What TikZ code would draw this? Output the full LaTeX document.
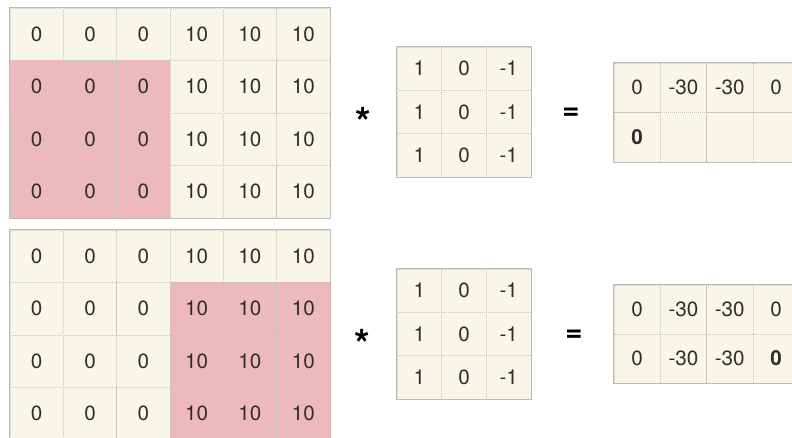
\documentclass[tikz,border=0pt]{standalone}
\usepackage{fontspec}
\setmainfont{TeX Gyre Heros}
\usepackage{xcolor}
\usepackage{tikz}
\usetikzlibrary{positioning}

\definecolor{cream}{HTML}{F8F5E9}
\definecolor{pink}{HTML}{EDB9BE}
\definecolor{gridline}{HTML}{C9C5BA}
\definecolor{frameline}{HTML}{BDBBB5}
\definecolor{ink}{HTML}{2E2E2E}

\tikzset{
  cell/.style={draw=gridline,densely dotted,line width=0.5pt,inner sep=0pt,
    text=ink,font=\fontsize{15.5}{17}\selectfont},
  bigcell/.style={cell,minimum width=40pt,minimum height=39.4pt},
  kercell/.style={cell,fill=cream,minimum width=33.5pt,minimum height=32.5pt},
  outcell/.style={cell,fill=cream,minimum width=34.7pt,minimum height=37pt},
  frame/.style={draw=frameline,line width=0.8pt},
  opsign/.style={text=black,font=\fontsize{22}{24}\selectfont\bfseries}
}

\begin{document}
\begin{tikzpicture}[x=0.75pt,y=-0.75pt]
        \useasboundingbox (0,0) rectangle (792,437);
        % top input, window on the left
        \foreach \r/\f in {1/cream,2/pink,3/pink,4/pink}{
          \foreach \c in {1,2,3}{\node[bigcell,fill=\f] (a\r\c) at ({10+(\c-0.5)*53.33},{8+(\r-0.5)*52.5}) {0};}
          \foreach \c in {4,5,6}{\node[bigcell,fill=cream] (a\r\c) at ({10+(\c-0.5)*53.33},{8+(\r-0.5)*52.5}) {10};}
        }
        \draw[frame] (a11.north west) rectangle (a46.south east);
        % bottom input, window on the right
        \foreach \r/\f in {1/cream,2/pink,3/pink,4/pink}{
          \foreach \c in {1,2,3}{\node[bigcell,fill=cream] (b\r\c) at ({10+(\c-0.5)*53.33},{230+(\r-0.5)*52.5}) {0};}
          \foreach \c in {4,5,6}{\node[bigcell,fill=\f] (b\r\c) at ({10+(\c-0.5)*53.33},{230+(\r-0.5)*52.5}) {10};}
        }
        \draw[frame] (b11.north west) rectangle (b46.south east);
        % kernels
        \foreach \y/\k in {47/ka,269/kb}{
          \foreach \r in {1,2,3}{
            \foreach \c/\v in {1/1,2/0,3/-1}{\node[kercell] (\k\r\c) at ({397+(\c-0.5)*44.7},{\y+(\r-0.5)*43.3}) {\v};}
          }
          \draw[frame] (\k11.north west) rectangle (\k33.south east);
        }
        \node[opsign,font=\fontsize{30}{30}\selectfont\bfseries] (stara) at (363,122) {*};
        \node[opsign] (eqa) at (571,114) {=};
        \node[opsign,font=\fontsize{30}{30}\selectfont\bfseries] (starb) at (362,344) {*};
        \node[opsign] (eqb) at (574,336) {=};
        % outputs
        \foreach \c/\v in {1/0,2/-30,3/-30,4/0}{\node[outcell] (oa1\c) at ({614+(\c-0.5)*46.3},{63+0.5*49.5}) {\v};}
        \node[outcell] (oa21) at ({614+0.5*46.3},{63+1.5*49.5}) {\bfseries 0};
        \foreach \c in {2,3,4}{\node[outcell] (oa2\c) at ({614+(\c-0.5)*46.3},{63+1.5*49.5}) {};}
        \draw[frame] (oa11.north west) rectangle (oa24.south east);
        \foreach \r in {1,2}{
          \foreach \c/\v in {1/0,2/-30,3/-30}{\node[outcell] (ob\r\c) at ({614+(\c-0.5)*46.3},{285+(\r-0.5)*49}) {\v};}
        }
        \node[outcell] (ob14) at ({614+3.5*46.3},{285+0.5*49}) {0};
        \node[outcell] (ob24) at ({614+3.5*46.3},{285+1.5*49}) {\bfseries 0};
        \draw[frame] (ob11.north west) rectangle (ob24.south east);
\end{tikzpicture}
\end{document}
